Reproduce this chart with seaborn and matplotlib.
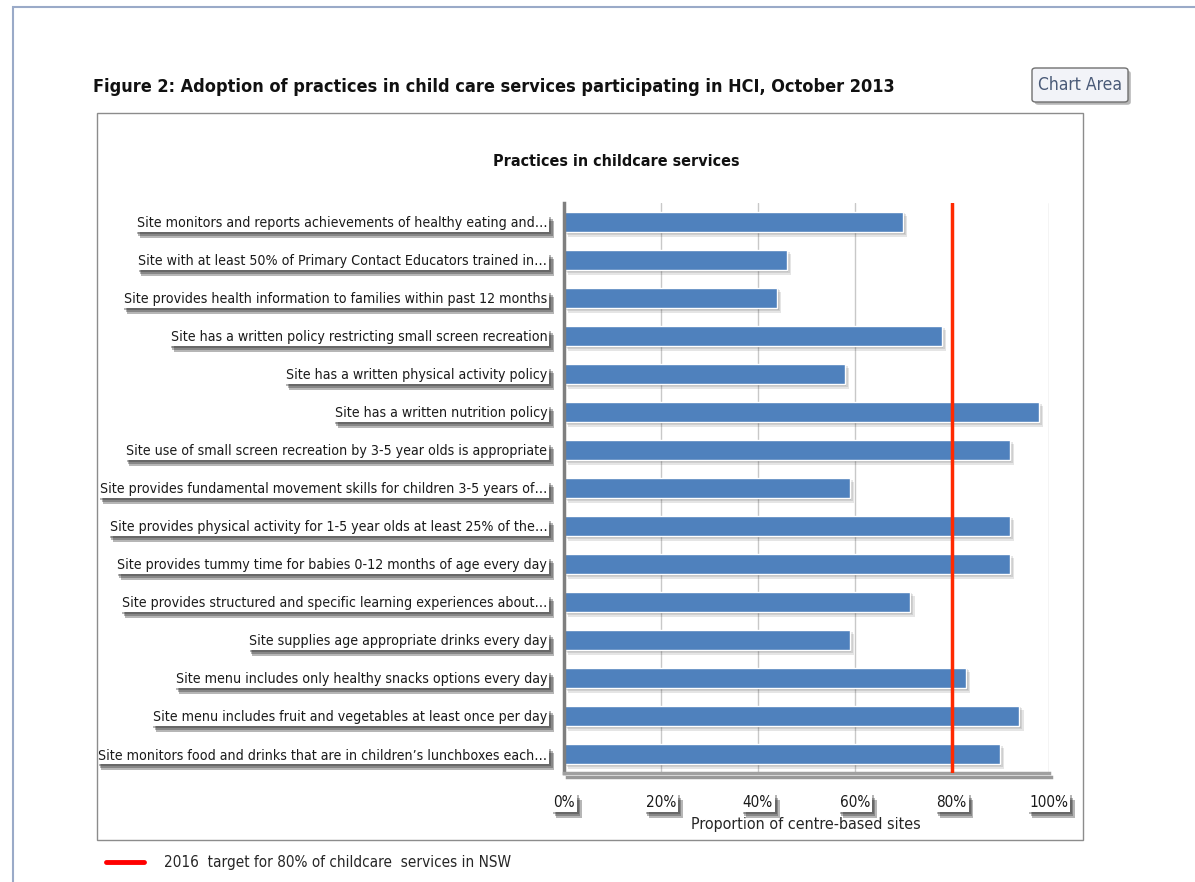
import matplotlib
matplotlib.use("Agg")
import matplotlib.pyplot as plt
import matplotlib.patheffects as pe
from matplotlib.patches import Rectangle, FancyBboxPatch
from matplotlib.ticker import FuncFormatter
import seaborn as sns
import pandas as pd

# data (top to bottom)
practices = [
    "Site monitors and reports achievements of healthy eating and\u2026",
    "Site with at least 50% of Primary Contact Educators trained in\u2026",
    "Site provides health information to families within past 12 months",
    "Site has a written policy restricting small screen recreation",
    "Site has a written physical activity policy",
    "Site has a written nutrition policy",
    "Site use of small screen recreation by 3-5 year olds is appropriate",
    "Site provides fundamental movement skills for children 3-5 years of\u2026",
    "Site provides physical activity for 1-5 year olds at least 25% of the\u2026",
    "Site provides tummy time for babies 0-12 months of age every day",
    "Site provides structured and specific learning experiences about\u2026",
    "Site supplies age appropriate drinks every day",
    "Site menu includes only healthy snacks options every day",
    "Site menu includes fruit and vegetables at least once per day",
    "Site monitors food and drinks that are in children\u2019s lunchboxes each\u2026",
]
adoption = [70, 46, 44, 78, 58, 98, 92, 59, 92, 92, 71.5, 59, 83, 94, 90]
target = 80
x_ticks = [0, 20, 40, 60, 80, 100]

df = pd.DataFrame({"practice": practices, "adoption": adoption})

sns.set_style("white")
plt.rcParams["font.family"] = ["DejaVu Sans"]
plt.rcParams["font.stretch"] = "condensed"

W, H = 1195, 882
fig = plt.figure(figsize=(W / 100, H / 100), dpi=100)
ax = fig.add_axes([564 / W, 1 - 773 / H, 484.5 / W, 570 / H])

sns.barplot(data=df, x="adoption", y="practice", orient="h", color="#4F81BD",
            saturation=1, width=0.55, ax=ax)


def soft_shadow(alpha, steps=((1.5, -1.5), (2.5, -3), (3.5, -4.5))):
    # a few stacked offsets to fake a blurred drop shadow
    effects = [pe.SimplePatchShadow(offset=o, shadow_rgbFace="#303030", alpha=alpha) for o in steps]
    return effects + [pe.Normal()]


for bar in ax.patches:
    bar.set_path_effects(soft_shadow(0.12, ((1, -1), (2, -2), (3, -3))))

ax.axvline(target, color="#FF2A00", lw=2.5, zorder=5,
           label="2016  target for 80% of childcare  services in NSW")

ax.set_xlim(0, 100)
ax.set_ylim(len(practices) - 0.5, -0.5)
ax.set_xticks(x_ticks)
ax.xaxis.set_major_formatter(FuncFormatter(lambda v, p: f"{v:.0f}%"))
ax.grid(axis="x", color="#C8C8C8", lw=1)
ax.set_axisbelow(True)
ax.set_ylabel("")
ax.set_xlabel("Proportion of centre-based sites", fontsize=11.5)
ax.xaxis.set_label_coords(0.5, -0.077)

for side in ["top", "right"]:
    ax.spines[side].set_visible(False)
ax.spines["left"].set_color("#7F7F7F")
ax.spines["left"].set_linewidth(2.5)
ax.spines["bottom"].set_color("#A0A0A0")
ax.spines["bottom"].set_linewidth(2.5)
ax.spines["bottom"].set_path_effects([pe.SimpleLineShadow(offset=(2, -3), alpha=0.4), pe.Normal()])

ax.tick_params(axis="y", length=0, pad=12, labelsize=10.2, labelcolor="#1A1A1A")
ax.tick_params(axis="x", length=0, pad=16, labelsize=11, labelcolor="#1A1A1A")

for t in ax.get_yticklabels() + ax.get_xticklabels():
    t.set_bbox(dict(boxstyle="square,pad=0.12", fc="white", ec="none"))
    t.get_bbox_patch().set_path_effects(soft_shadow(0.35))

# titles
fig.text(93 / W, 1 - 87 / H,
         "Figure 2: Adoption of practices in child care services participating in HCI, October 2013",
         ha="left", va="center", fontsize=13, weight="bold", color="#111111")
fig.text(616 / W, 1 - 162 / H, "Practices in childcare services",
         ha="center", va="center", fontsize=11.5, weight="bold", color="#111111")

# legend below chart area
fig.legend(handles=[ax.lines[-1]], loc="center left", bbox_to_anchor=(92 / W, 1 - 863 / H),
           frameon=False, fontsize=11, handlelength=2.5, handletextpad=1.3)
fig.legends[0].get_lines()[0].set_color("#FF0000")
fig.legends[0].get_lines()[0].set_linewidth(3.5)

# outer page border and chart area box
fig.add_artist(Rectangle((13 / W, -0.2), 1.2, 1.2 - 7 / H, transform=fig.transFigure,
                         fill=False, ec="#9AAAC8", lw=1.5))
fig.add_artist(Rectangle((97 / W, 1 - 840 / H), 986 / W, 727 / H, transform=fig.transFigure,
                         fill=False, ec="#8C8C8C", lw=1))

# "Chart Area" tooltip box
btn = FancyBboxPatch((1032 / W, 1 - 102 / H), 96 / W, 34 / H, transform=fig.transFigure,
                     boxstyle="round,pad=0,rounding_size=0.003", fc="#F2F3F8", ec="#707070", lw=1)
btn.set_path_effects([pe.SimplePatchShadow(offset=(2, -2), alpha=0.4), pe.Normal()])
fig.add_artist(btn)
fig.text(1080 / W, 1 - 85 / H, "Chart Area", ha="center", va="center", fontsize=12.5, color="#4A5A78")

fig.savefig("out.png", dpi=100, facecolor="white")
